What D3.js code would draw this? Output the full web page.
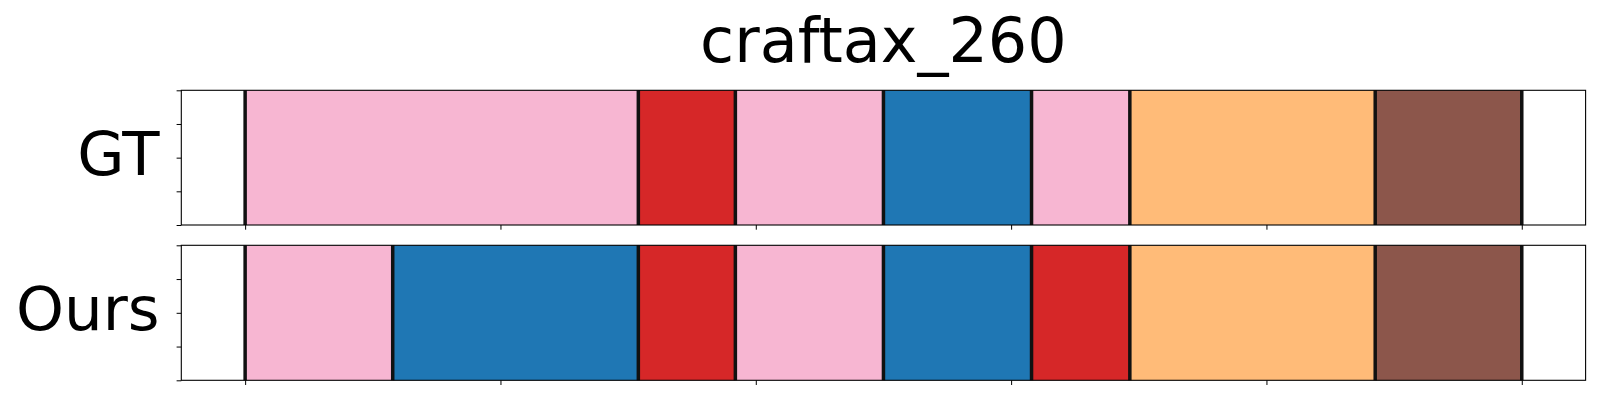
<!DOCTYPE html>
<html>
<head>
<meta charset="utf-8">
<script src="https://cdn.jsdelivr.net/npm/d3@7"></script>
<style>
  html, body { margin: 0; padding: 0; background: #fff; }
  svg { display: block; font-family: "DejaVu Sans", sans-serif; }
</style>
</head>
<body>
<svg id="chart" width="1600" height="400"></svg>
<script>
// ---- data ----
const title = "craftax_260";
const rowLabels = ["GT", "Ours"];
const totalLength = 500;
const xTickValues = [0, 100, 200, 300, 400, 500];
const yTickValues = [0, 0.25, 0.5, 0.75, 1];
// segment boundaries (start, end) and action classes
const gtStarts = [0, 154, 192, 250, 308, 346.5, 442.6];
const gtEnds   = [154, 192, 250, 308, 346.5, 442.6, 500];
const gtClass  = ["pink", "red", "pink", "blue", "pink", "orange", "brown"];
const oursStarts = [0, 57.8, 154, 192, 250, 308, 346.5, 442.6];
const oursEnds   = [57.8, 154, 192, 250, 308, 346.5, 442.6, 500];
const oursClass  = ["pink", "blue", "red", "pink", "blue", "red", "orange", "brown"];
const classNames = ["pink", "red", "blue", "orange", "brown"];
const classColors = ["#f7b6d2", "#d62728", "#1f77b4", "#ffbb78", "#8c564b"];

// ---- layout ----
const svg = d3.select("#chart");
const axLeft = 181.3, axRight = 1585.6;
const panels = [
  { label: rowLabels[0], top: 90.3, bottom: 225, starts: gtStarts, ends: gtEnds, cls: gtClass },
  { label: rowLabels[1], top: 245.3, bottom: 380.3, starts: oursStarts, ends: oursEnds, cls: oursClass }
];
const margin = totalLength * 0.05;
const x = d3.scaleLinear().domain([-margin, totalLength + margin]).range([axLeft, axRight]);
const color = d3.scaleOrdinal().domain(classNames).range(classColors);

svg.append("text")
  .attr("x", (axLeft + axRight) / 2)
  .attr("y", 61.7)
  .attr("text-anchor", "middle")
  .attr("font-size", 62)
  .attr("fill", "#000")
  .text(title);

panels.forEach(p => {
  const y = d3.scaleLinear().domain([0, 1]).range([p.bottom, p.top]);
  const g = svg.append("g");
  const segs = p.starts.map((s, i) => ({ s, e: p.ends[i], c: p.cls[i] }));

  g.selectAll("rect.seg").data(segs).enter().append("rect")
    .attr("class", "seg")
    .attr("x", d => x(d.s))
    .attr("width", d => x(d.e) - x(d.s))
    .attr("y", y(1))
    .attr("height", y(0) - y(1))
    .attr("fill", d => color(d.c));

  const bounds = Array.from(new Set(p.starts.concat(p.ends)));
  g.selectAll("line.bnd").data(bounds).enter().append("line")
    .attr("class", "bnd")
    .attr("x1", d => x(d)).attr("x2", d => x(d))
    .attr("y1", y(1)).attr("y2", y(0))
    .attr("stroke", "#111")
    .attr("stroke-width", 3.5);

  // axes
  const xAxis = d3.axisBottom(x).tickValues(xTickValues).tickSize(4.7).tickFormat("");
  const yAxis = d3.axisLeft(y).tickValues(yTickValues).tickSize(4.7).tickFormat("");
  const gx = g.append("g").attr("transform", `translate(0,${p.bottom})`).call(xAxis);
  const gy = g.append("g").attr("transform", `translate(${axLeft},0)`).call(yAxis);
  [gx, gy].forEach(a => {
    a.select(".domain").remove();
    a.selectAll(".tick line").attr("stroke", "#000").attr("stroke-width", 1);
  });

  g.append("rect")
    .attr("x", axLeft).attr("y", p.top)
    .attr("width", axRight - axLeft).attr("height", p.bottom - p.top)
    .attr("fill", "none").attr("stroke", "#000").attr("stroke-width", 1.1);

  svg.append("text")
    .attr("x", 159.5)
    .attr("y", (p.top + p.bottom) / 2 + 17)
    .attr("text-anchor", "end")
    .attr("font-size", 61)
    .attr("fill", "#000")
    .text(p.label);
});
</script>
</body>
</html>
